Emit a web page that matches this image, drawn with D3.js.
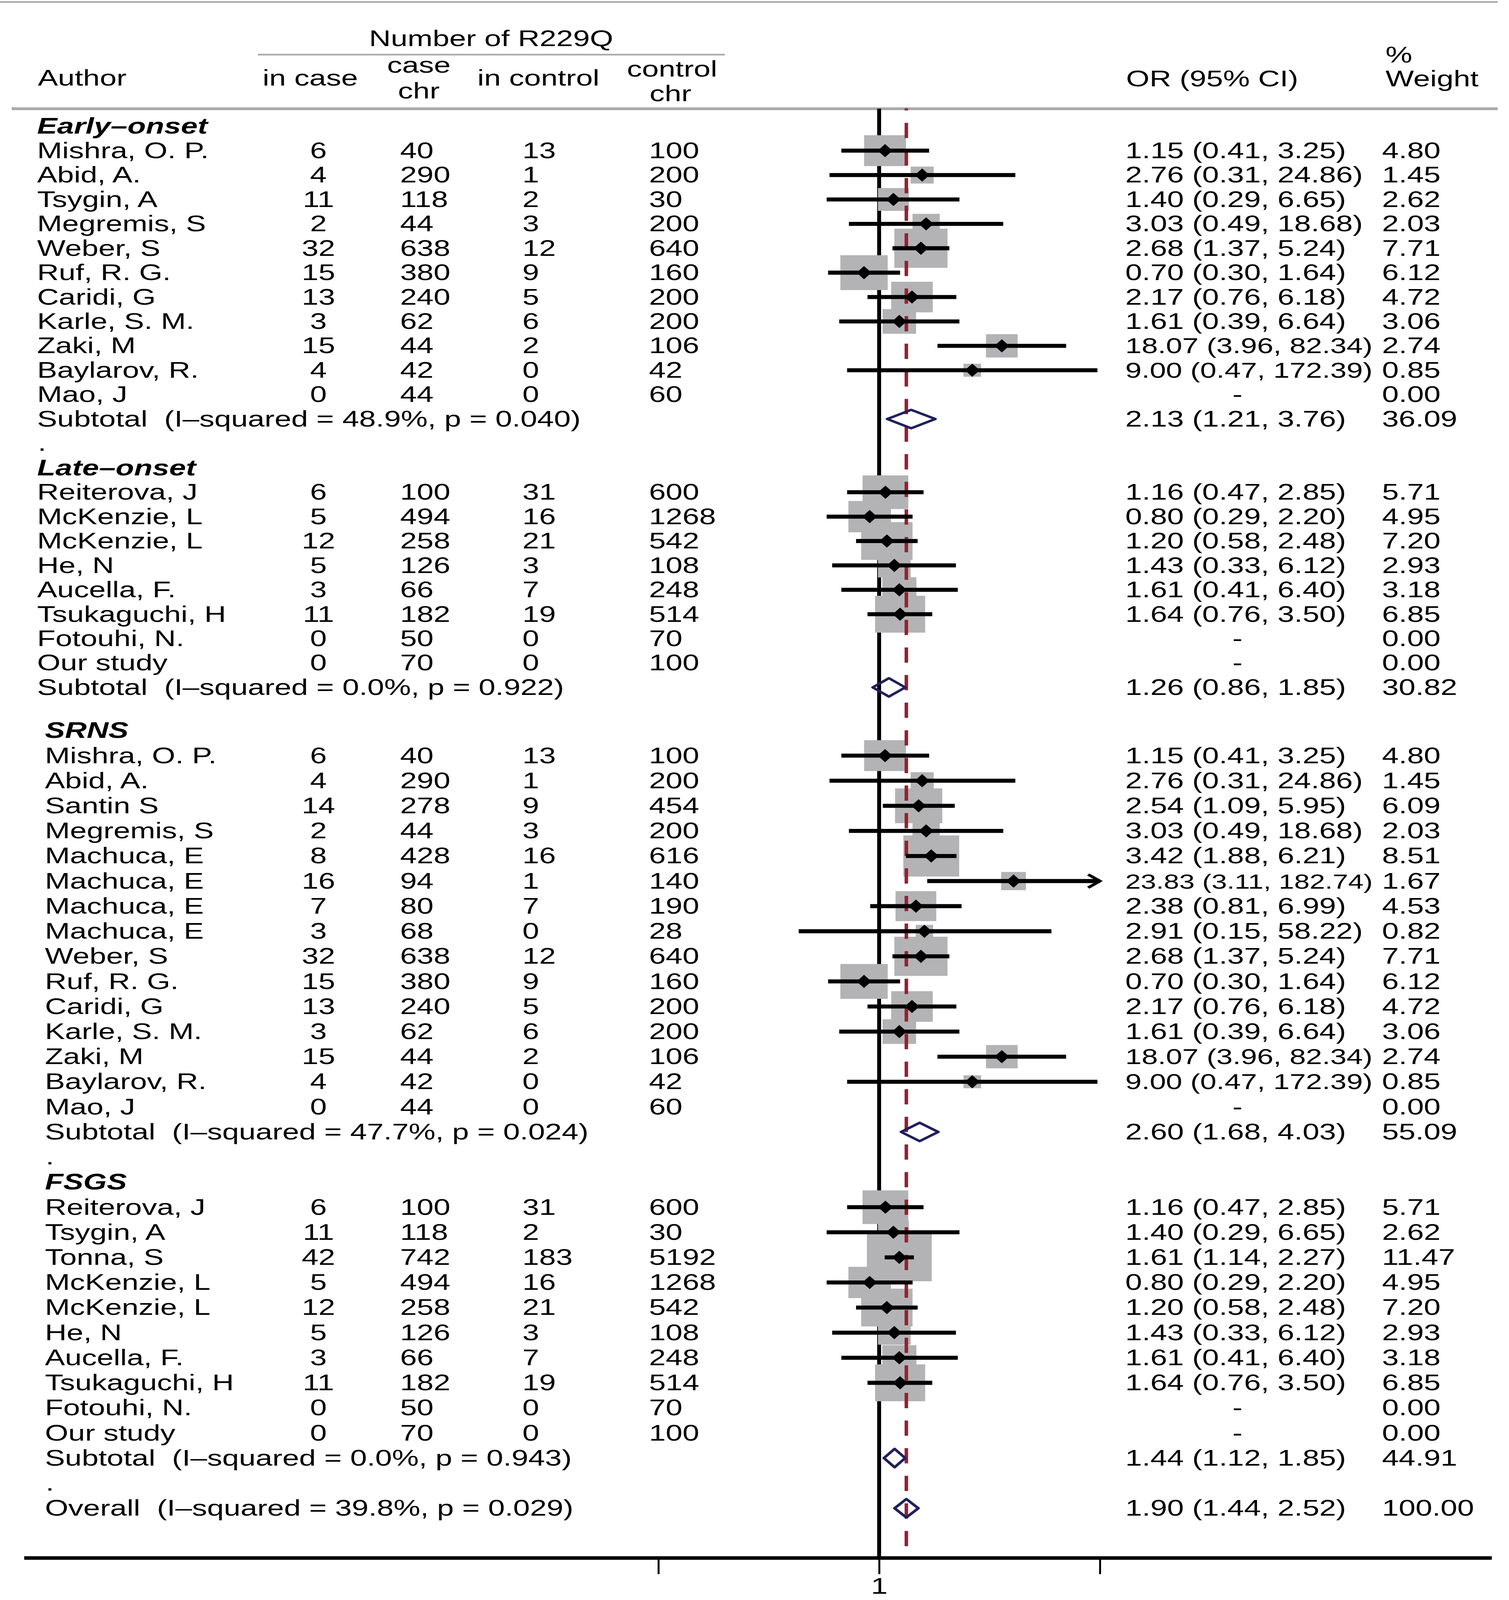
<!DOCTYPE html>
<html>
<head>
<meta charset="utf-8">
<script src="https://cdn.jsdelivr.net/npm/d3@7"></script>
<style>
html, body { margin: 0; padding: 0; background: #fff; overflow: hidden; }
text { font-family: "Liberation Sans", Arial, Helvetica, sans-serif; font-size: 77px; fill: #000; white-space: pre; }
</style>
</head>
<body>
<div id="forest"></div>
<script>
// ---- data ----
var groups = ["Early–onset", "Late–onset", "SRNS", "FSGS"];
var dotAfter = [true, false, true, true];

var studyGroup = [0,0,0,0,0,0,0,0,0,0,0,
                  1,1,1,1,1,1,1,1,
                  2,2,2,2,2,2,2,2,2,2,2,2,2,2,2,
                  3,3,3,3,3,3,3,3,3,3];
var authors = ["Mishra, O. P.","Abid, A.","Tsygin, A","Megremis, S","Weber, S","Ruf, R. G.","Caridi, G","Karle, S. M.","Zaki, M","Baylarov, R.","Mao, J",
               "Reiterova, J","McKenzie, L","McKenzie, L","He, N","Aucella, F.","Tsukaguchi, H","Fotouhi, N.","Our study",
               "Mishra, O. P.","Abid, A.","Santin S","Megremis, S","Machuca, E","Machuca, E","Machuca, E","Machuca, E","Weber, S","Ruf, R. G.","Caridi, G","Karle, S. M.","Zaki, M","Baylarov, R.","Mao, J",
               "Reiterova, J","Tsygin, A","Tonna, S","McKenzie, L","McKenzie, L","He, N","Aucella, F.","Tsukaguchi, H","Fotouhi, N.","Our study"];
var inCase     = [6,4,11,2,32,15,13,3,15,4,0, 6,5,12,5,3,11,0,0, 6,4,14,2,8,16,7,3,32,15,13,3,15,4,0, 6,11,42,5,12,5,3,11,0,0];
var caseChr    = [40,290,118,44,638,380,240,62,44,42,44, 100,494,258,126,66,182,50,70, 40,290,278,44,428,94,80,68,638,380,240,62,44,42,44, 100,118,742,494,258,126,66,182,50,70];
var inControl  = [13,1,2,3,12,9,5,6,2,0,0, 31,16,21,3,7,19,0,0, 13,1,9,3,16,1,7,0,12,9,5,6,2,0,0, 31,2,183,16,21,3,7,19,0,0];
var controlChr = [100,200,30,200,640,160,200,200,106,42,60, 600,1268,542,108,248,514,70,100, 100,200,454,200,616,140,190,28,640,160,200,200,106,42,60, 600,30,5192,1268,542,108,248,514,70,100];
var orVal  = [1.15,2.76,1.40,3.03,2.68,0.70,2.17,1.61,18.07,9.00,null, 1.16,0.80,1.20,1.43,1.61,1.64,null,null,
              1.15,2.76,2.54,3.03,3.42,23.83,2.38,2.91,2.68,0.70,2.17,1.61,18.07,9.00,null,
              1.16,1.40,1.61,0.80,1.20,1.43,1.61,1.64,null,null];
var ciLow  = [0.41,0.31,0.29,0.49,1.37,0.30,0.76,0.39,3.96,0.47,null, 0.47,0.29,0.58,0.33,0.41,0.76,null,null,
              0.41,0.31,1.09,0.49,1.88,3.11,0.81,0.15,1.37,0.30,0.76,0.39,3.96,0.47,null,
              0.47,0.29,1.14,0.29,0.58,0.33,0.41,0.76,null,null];
var ciHigh = [3.25,24.86,6.65,18.68,5.24,1.64,6.18,6.64,82.34,172.39,null, 2.85,2.20,2.48,6.12,6.40,3.50,null,null,
              3.25,24.86,5.95,18.68,6.21,182.74,6.99,58.22,5.24,1.64,6.18,6.64,82.34,172.39,null,
              2.85,6.65,2.27,2.20,2.48,6.12,6.40,3.50,null,null];
var weight = [4.80,1.45,2.62,2.03,7.71,6.12,4.72,3.06,2.74,0.85,0.00, 5.71,4.95,7.20,2.93,3.18,6.85,0.00,0.00,
              4.80,1.45,6.09,2.03,8.51,1.67,4.53,0.82,7.71,6.12,4.72,3.06,2.74,0.85,0.00,
              5.71,2.62,11.47,4.95,7.20,2.93,3.18,6.85,0.00,0.00];

var subLabel  = ["Subtotal  (I–squared = 48.9%, p = 0.040)", "Subtotal  (I–squared = 0.0%, p = 0.922)",
                 "Subtotal  (I–squared = 47.7%, p = 0.024)", "Subtotal  (I–squared = 0.0%, p = 0.943)"];
var subOR     = [2.13, 1.26, 2.60, 1.44];
var subLow    = [1.21, 0.86, 1.68, 1.12];
var subHigh   = [3.76, 1.85, 4.03, 1.85];
var subWeight = [36.09, 30.82, 55.09, 44.91];

var overallLabel = "Overall  (I–squared = 39.8%, p = 0.029)";
var overallOR = 1.90, overallLow = 1.44, overallHigh = 2.52, overallWeight = 100.00;

var axisMax = 182.74;

// ---- layout ----
var width = 3862, height = 5563;
// fit the drawing into whatever the window really is
var vw = window.innerWidth > 100 ? window.innerWidth : width;
var vh = window.innerHeight > 100 ? window.innerHeight : height;
var svg = d3.select("#forest").append("svg")
  .attr("width", vw).attr("height", vh)
  .attr("viewBox", "0 0 " + width + " " + height)
  .attr("preserveAspectRatio", "none")
  .style("display", "block").style("background", "#fff");

var f2 = d3.format(".2f");
function ciText(o, l, h) { return f2(o) + " (" + f2(l) + ", " + f2(h) + ")"; }

// build the row list
var rows = [], r = 0;
groups.forEach(function(g, gi) {
  rows.push({type: "head", row: r++, label: g});
  studyGroup.forEach(function(sg, i) { if (sg === gi) rows.push({type: "study", row: r++, i: i}); });
  rows.push({type: "sub", row: r++, g: gi});
  if (dotAfter[gi]) rows.push({type: "dot", row: r++});
});
rows.push({type: "overall", row: r++});

// two stacked panels with slightly different row spacing
var y = d3.scaleLinear().domain([0, 23, 24, 55]).range([465, 2416, 2566, 5270]);
var x = d3.scaleLog().domain([1 / axisMax, axisMax]).range([1685, 2815]);
function yc(row) { return y(row) - 26; }
function authorX(row) { return row < 24 ? 95 : 115; }

// ---- header ----
svg.append("line").attr("x1", 0).attr("x2", 3833).attr("y1", 7).attr("y2", 7)
  .attr("stroke", "#aaa").attr("stroke-width", 6);
svg.append("line").attr("x1", 660).attr("x2", 1855).attr("y1", 190).attr("y2", 190)
  .attr("stroke", "#aaa").attr("stroke-width", 6);
svg.append("line").attr("x1", 30).attr("x2", 3833).attr("y1", 378).attr("y2", 378)
  .attr("stroke", "#aaa").attr("stroke-width", 10);

var hdr = svg.append("g");
hdr.append("text").attr("x", 1257).attr("y", 160).attr("text-anchor", "middle").text("Number of R229Q");
hdr.append("text").attr("x", 97).attr("y", 297).text("Author");
hdr.append("text").attr("x", 794).attr("y", 297).attr("text-anchor", "middle").text("in case");
hdr.append("text").attr("x", 1072).attr("y", 253).attr("text-anchor", "middle").text("case");
hdr.append("text").attr("x", 1072).attr("y", 342).attr("text-anchor", "middle").text("chr");
hdr.append("text").attr("x", 1378).attr("y", 297).attr("text-anchor", "middle").text("in control");
hdr.append("text").attr("x", 1720).attr("y", 266).attr("text-anchor", "middle").text("control");
hdr.append("text").attr("x", 1716).attr("y", 352).attr("text-anchor", "middle").text("chr");
hdr.append("text").attr("x", 2882).attr("y", 300).text("OR (95% CI)");
hdr.append("text").attr("x", 3546).attr("y", 217).text("%");
hdr.append("text").attr("x", 3546).attr("y", 300).text("Weight");

// ---- plot marks ----
var plot = svg.append("g");
plot.append("line").attr("x1", x(1)).attr("x2", x(1)).attr("y1", 378).attr("y2", 5417)
  .attr("stroke", "#000").attr("stroke-width", 10);

var studies = rows.filter(function(d) { return d.type === "study" && orVal[d.i] !== null; });
function side(i) { return 49 * Math.sqrt(weight[i]); }

plot.selectAll("rect.box").data(studies).enter().append("rect")
  .attr("class", "box")
  .attr("x", function(d) { return x(orVal[d.i]) - side(d.i) / 2; })
  .attr("y", function(d) { return yc(d.row) - side(d.i) / 2; })
  .attr("width", function(d) { return side(d.i); })
  .attr("height", function(d) { return side(d.i); })
  .attr("fill", "#b3b3b5");

plot.append("line").attr("x1", x(overallOR)).attr("x2", x(overallOR))
  .attr("y1", 377).attr("y2", 5403)
  .attr("stroke", "#932233").attr("stroke-width", 9)
  .attr("stroke-dasharray", "53 43").attr("stroke-dashoffset", 46);

plot.selectAll("line.ci").data(studies).enter().append("line")
  .attr("class", "ci")
  .attr("x1", function(d) { return x(ciLow[d.i]); })
  .attr("x2", function(d) { return x(Math.min(ciHigh[d.i], axisMax)); })
  .attr("y1", function(d) { return yc(d.row); })
  .attr("y2", function(d) { return yc(d.row); })
  .attr("stroke", "#000").attr("stroke-width", 14);

// arrow for CI that reaches the axis limit
plot.selectAll("path.arrow").data(studies.filter(function(d) { return ciHigh[d.i] >= axisMax; }))
  .enter().append("path")
  .attr("class", "arrow")
  .attr("d", function(d) {
    var xe = x(axisMax), c = yc(d.row);
    return "M" + (xe - 30) + "," + (c - 23) + "L" + xe + "," + c + "L" + (xe - 30) + "," + (c + 23);
  })
  .attr("fill", "none").attr("stroke", "#000").attr("stroke-width", 9);

plot.selectAll("path.pt").data(studies).enter().append("path")
  .attr("class", "pt")
  .attr("d", function(d) {
    var cx = x(orVal[d.i]), c = yc(d.row);
    return "M" + (cx - 19) + "," + c + "L" + cx + "," + (c - 23) + "L" + (cx + 19) + "," + c + "L" + cx + "," + (c + 23) + "Z";
  })
  .attr("fill", "#000");

var pooled = rows.filter(function(d) { return d.type === "sub" || d.type === "overall"; })
  .map(function(d) {
    return d.type === "sub"
      ? {row: d.row, o: subOR[d.g], l: subLow[d.g], h: subHigh[d.g]}
      : {row: d.row, o: overallOR, l: overallLow, h: overallHigh};
  });
plot.selectAll("path.pool").data(pooled).enter().append("path")
  .attr("class", "pool")
  .attr("d", function(d) {
    var c = yc(d.row);
    return "M" + x(d.l) + "," + c + "L" + x(d.o) + "," + (c - 32) + "L" + x(d.h) + "," + c + "L" + x(d.o) + "," + (c + 32) + "Z";
  })
  .attr("fill", "none").attr("stroke", "#1f1f5c").attr("stroke-width", 8).attr("stroke-linejoin", "round");

// ---- x axis ----
var axisG = svg.append("g").attr("transform", "translate(0,5417)");
axisG.append("line").attr("x1", 62).attr("x2", 3818).attr("y1", 0).attr("y2", 0)
  .attr("stroke", "#000").attr("stroke-width", 12);
axisG.call(d3.axisBottom(x).tickValues([1 / axisMax, 1, axisMax])
    .tickFormat(function(d) { return d === 1 ? "1" : ""; })
    .tickSize(56).tickSizeOuter(0).tickPadding(14))
  .call(function(g) { g.select(".domain").remove(); })
  .call(function(g) {
    g.selectAll(".tick line").attr("stroke", "#000").attr("stroke-width", 5);
    g.selectAll(".tick text").attr("font-size", null).attr("font-family", null).attr("fill", "#000");
  });

// ---- text columns ----
var txt = svg.append("g");
var orX = 2880, wX = 3537;
function orLabel(yy, s) {
  var t = txt.append("text").attr("x", orX).attr("y", yy).text(s);
  var len = t.node().getComputedTextLength(), room = wX - 24 - orX;
  if (len > room) t.style("font-size", (77 * room / len).toFixed(1) + "px");
}
rows.forEach(function(d) {
  var yy = y(d.row), ax = authorX(d.row);
  if (d.type === "head") {
    txt.append("text").attr("x", ax).attr("y", yy)
      .style("font-weight", "bold").style("font-style", "italic").text(d.label);
  } else if (d.type === "dot") {
    txt.append("text").attr("x", ax + 2).attr("y", yy).text(".");
  } else if (d.type === "study") {
    var i = d.i;
    txt.append("text").attr("x", ax).attr("y", yy).text(authors[i]);
    txt.append("text").attr("x", 815).attr("y", yy).attr("text-anchor", "middle").text(inCase[i]);
    txt.append("text").attr("x", 1024).attr("y", yy).text(caseChr[i]);
    txt.append("text").attr("x", 1337).attr("y", yy).text(inControl[i]);
    txt.append("text").attr("x", 1661).attr("y", yy).text(controlChr[i]);
    if (orVal[i] === null) {
      txt.append("text").attr("x", 3167).attr("y", yy).attr("text-anchor", "middle").text("-");
    } else {
      orLabel(yy, ciText(orVal[i], ciLow[i], ciHigh[i]));
    }
    txt.append("text").attr("x", wX).attr("y", yy).text(f2(weight[i]));
  } else if (d.type === "sub") {
    txt.append("text").attr("x", ax).attr("y", yy).text(subLabel[d.g]);
    orLabel(yy, ciText(subOR[d.g], subLow[d.g], subHigh[d.g]));
    txt.append("text").attr("x", wX).attr("y", yy).text(f2(subWeight[d.g]));
  } else {
    txt.append("text").attr("x", ax).attr("y", yy).text(overallLabel);
    orLabel(yy, ciText(overallOR, overallLow, overallHigh));
    txt.append("text").attr("x", wX).attr("y", yy).text(f2(overallWeight));
  }
});
</script>
</body>
</html>
